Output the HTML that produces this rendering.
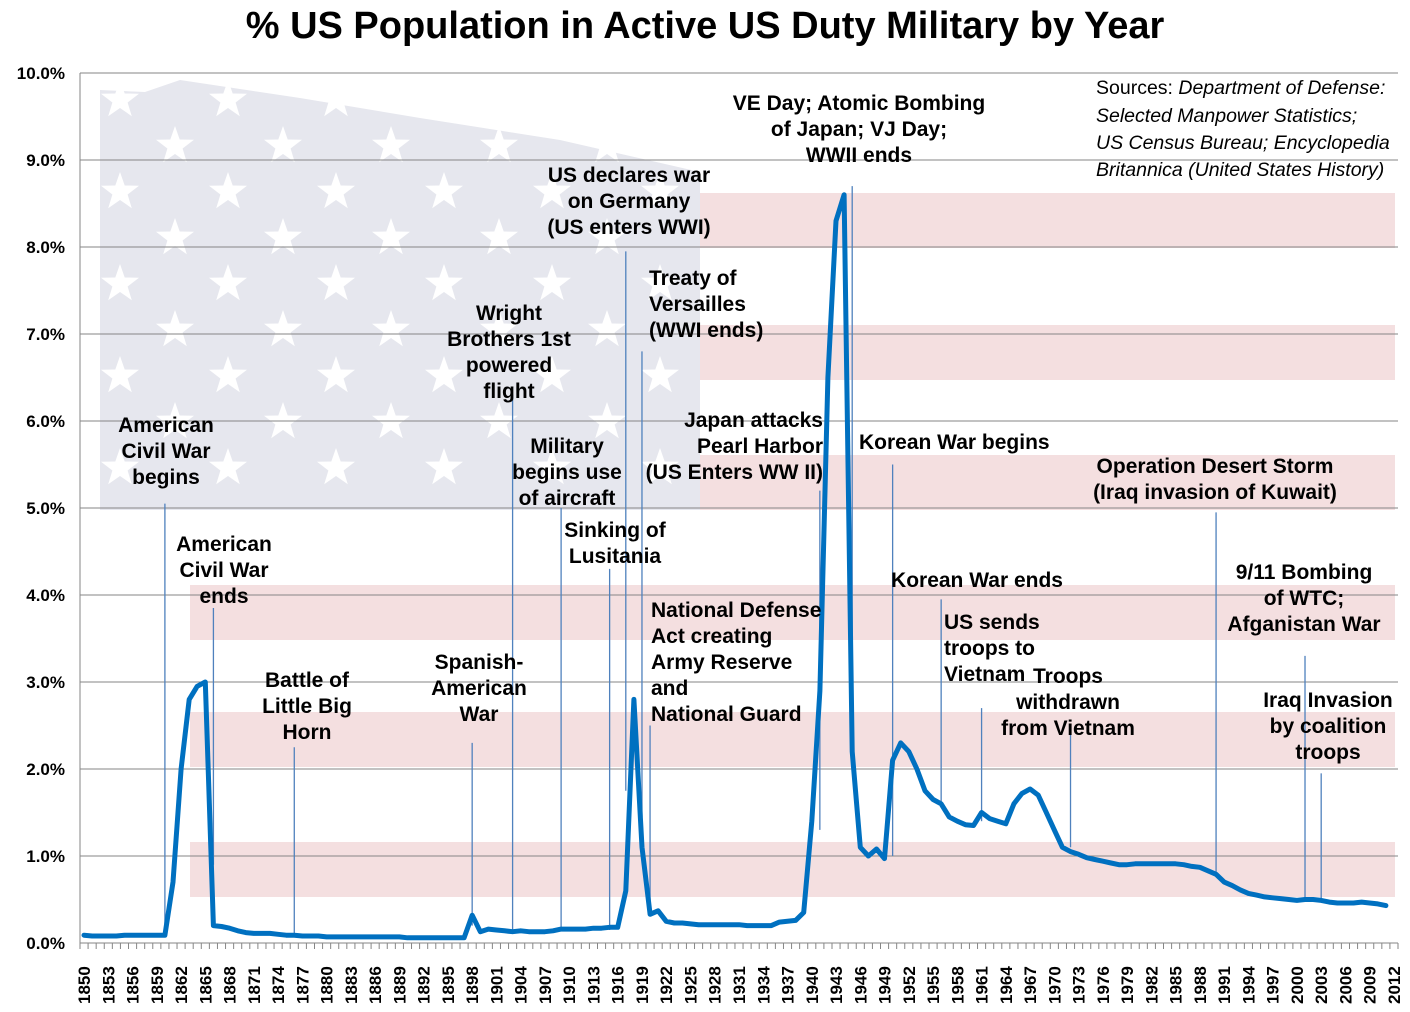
<!DOCTYPE html>
<html><head><meta charset="utf-8"><style>
body{margin:0;background:#fff;}
svg text{font-family:"Liberation Sans Narrow","Liberation Sans",sans-serif;}
</style></head><body>
<svg id="chart" width="1410" height="1007" xmlns="http://www.w3.org/2000/svg">
<g id="bg"></g>
<g id="grid"></g>
<g id="leaders"></g>
<g id="series"></g>
<g id="axes"></g>
<g id="notes"></g>
<text x="705" y="38" text-anchor="middle" font-size="38" font-weight="bold" fill="#000" style="font-family:'Liberation Sans Narrow','Liberation Sans',sans-serif">% US Population in Active US Duty Military by Year</text>
<g fill="#000">
<text x="1096" y="94" style="font-family:'Liberation Sans',sans-serif;font-size:19.5px">Sources: <tspan font-style="italic">Department of Defense:</tspan></text>
<text x="1096" y="122" font-style="italic" style="font-family:'Liberation Sans',sans-serif;font-size:19.5px">Selected Manpower Statistics;</text>
<text x="1096" y="149" font-style="italic" style="font-family:'Liberation Sans',sans-serif;font-size:19.5px">US Census Bureau; Encyclopedia</text>
<text x="1096" y="176" font-style="italic" style="font-family:'Liberation Sans',sans-serif;font-size:19.5px">Britannica (United States History)</text>
</g>
</svg>
<script>
const years = [];
for (let y = 1850; y <= 2012; y++) years.push(y);
const values = [
0.09,0.08,0.08,0.08,0.08,0.09,0.09,0.09,0.09,0.09,0.09,
0.70,2.00,2.80,2.95,3.00,0.20,0.19,0.17,0.14,0.12,0.11,0.11,0.11,0.10,0.09,0.09,0.08,0.08,0.08,0.07,0.07,0.07,0.07,0.07,0.07,0.07,0.07,0.07,0.07,0.06,0.06,0.06,0.06,0.06,0.06,0.06,0.06,
0.32,0.13,0.16,0.15,0.14,0.13,0.14,0.13,0.13,0.13,0.14,0.16,0.16,0.16,0.16,0.17,0.17,0.18,0.18,
0.60,2.80,1.10,0.33,0.37,0.25,0.23,0.23,0.22,0.21,0.21,0.21,0.21,0.21,0.21,0.20,0.20,0.20,0.20,0.24,0.25,0.26,
0.35,1.40,2.90,6.50,8.30,8.60,2.20,1.10,1.00,1.08,0.97,
2.10,2.30,2.20,2.00,1.75,1.65,1.60,1.45,1.40,1.36,1.35,1.50,1.43,1.40,1.37,1.60,1.72,1.77,1.70,1.50,1.30,1.10,1.05,1.02,0.98,0.96,0.94,0.92,0.90,0.90,0.91,0.91,0.91,0.91,0.91,0.91,0.90,0.88,0.87,0.83,0.79,
0.70,0.66,0.61,0.57,0.55,0.53,0.52,0.51,0.50,0.49,0.50,0.50,0.49,0.47,0.46,0.46,0.46,0.47,0.46,0.45,0.43
];
const yTicks = [0,1,2,3,4,5,6,7,8,9,10];
const yTickLabels = ["0.0%","1.0%","2.0%","3.0%","4.0%","5.0%","6.0%","7.0%","8.0%","9.0%","10.0%"];
const eventYears = [1860,1866,1876,1898,1903,1909,1915,1917,1919,1920,1941,1945,1950,1956,1961,1972,1990,2001,2003];
const eventTops = [5.05,3.85,2.25,2.3,6.3,5.0,4.3,7.95,6.8,2.5,5.2,8.7,5.5,3.95,2.7,2.4,4.95,3.3,1.95];
const eventBottoms = [0.1,0.9,0.09,0.2,0.15,0.15,0.15,1.75,1.45,0.35,1.3,2.0,1.0,1.6,1.4,1.1,0.8,0.5,0.5];
const NS="http://www.w3.org/2000/svg";
const L=80,R=1398,T=73,B=943;
const bw=(R-L)/years.length;
function xs(yr){return L+(yr-years[0]+0.5)*bw;}
function ys(v){return B-(v/10)*(B-T);}
function mk(tag,attrs,parent){const e=document.createElementNS(NS,tag);for(const k in attrs)e.setAttribute(k,attrs[k]);parent.appendChild(e);return e;}
const bg=document.getElementById('bg');
let e;
const stripeTops=[193,325,455,585,712,842];
stripeTops.forEach((t,i)=>{
 const x0 = t<510?700:190;
 e=mk('rect',{x:x0,y:t,width:1395-x0,height:55,fill:'#f4dfe0'},bg);
 
 
});
e=mk('path',{d:'M100,90 L145,92 L180,80 L300,98 L420,118 L560,140 L700,172 L700,510 L100,510 Z',fill:'#e6e7ee'},bg);


function star(cx,cy,r){let p=[];for(let i=0;i<10;i++){const a=-Math.PI/2+i*Math.PI/5;const rr=i%2?r*0.4:r;p.push((cx+rr*Math.cos(a)).toFixed(1)+','+(cy+rr*Math.sin(a)).toFixed(1));}return p.join(' ');}
for(let row=0;row<9;row++){for(let col=0;col<6;col++){
 const cx=(row%2?175:120)+col*108, cy=100+row*46;
 if(cx>690)continue;
 e=mk('polygon',{points:star(cx,cy,20),fill:'#fff'},bg);
 
 
}}
const grid=document.getElementById('grid');
yTicks.forEach(t=>{
 e=mk('line',{x1:L,x2:R,y1:ys(t),y2:ys(t),stroke:'#868686','stroke-width':1},grid);
 
 
});
const ax=document.getElementById('axes');
e=mk('line',{x1:L,x2:L,y1:T,y2:B,stroke:'#868686'},ax);


e=mk('line',{x1:L,x2:R,y1:B,y2:B,stroke:'#868686'},ax);


yTicks.forEach((t,i)=>{
 e=mk('text',{x:65,y:ys(t)+6,'text-anchor':'end','font-size':17,'font-weight':'bold',fill:'#000'},ax);
 e.textContent=yTickLabels[i];
 
 
});
for(let i=0;i<=years.length;i++){
 const x=L+i*bw;
 e=mk('line',{x1:x,x2:x,y1:B,y2:B+6,stroke:'#868686'},ax);
 
 
}
years.forEach(y=>{
 if((y-1850)%3!==0)return;
 const x=xs(y);
 e=mk('text',{x:0,y:0,transform:`translate(${x+6},1004) rotate(-90)`,'font-size':17,'font-weight':'bold',fill:'#000'},ax);
 e.textContent=String(y);
 
 
});
const ld=document.getElementById('leaders');
eventYears.forEach((y,i)=>{
 e=mk('line',{x1:xs(y),x2:xs(y),y1:ys(eventTops[i]),y2:ys(eventBottoms[i]),stroke:'#4f81bd','stroke-width':1.3},ld);
 
 
});
const s=document.getElementById('series');
const pts=years.map((y,i)=>xs(y).toFixed(1)+','+ys(values[i]).toFixed(1)).join(' ');
e=mk('polyline',{points:pts,fill:'none',stroke:'#0070c0','stroke-width':5,'stroke-linejoin':'round','stroke-linecap':'round'},s);


const notes=[
 [166,432,'middle',['American','Civil War','begins']],
 [224,551,'middle',['American','Civil War','ends']],
 [307,687,'middle',['Battle of','Little Big','Horn']],
 [479,669,'middle',['Spanish-','American','War']],
 [509,320,'middle',['Wright','Brothers 1st','powered','flight']],
 [567,453,'middle',['Military','begins use','of aircraft']],
 [615,537,'middle',['Sinking of','Lusitania']],
 [629,182,'middle',['US declares war','on Germany','(US enters WWI)']],
 [649,285,'start',['Treaty of','Versailles','(WWI ends)']],
 [651,617,'start',['National Defense','Act creating','Army Reserve','and','National Guard']],
 [823,427,'end',['Japan attacks','Pearl Harbor','(US Enters WW II)']],
 [859,110,'middle',['VE Day; Atomic Bombing','of Japan; VJ Day;','WWII ends']],
 [859,449,'start',['Korean War begins']],
 [977,587,'middle',['Korean War ends']],
 [944,629,'start',['US sends','troops to','Vietnam']],
 [1068,683,'middle',['Troops','withdrawn','from Vietnam']],
 [1215,473,'middle',['Operation Desert Storm','(Iraq invasion of Kuwait)']],
 [1304,579,'middle',['9/11 Bombing','of WTC;','Afganistan War']],
 [1328,707,'middle',['Iraq Invasion','by coalition','troops']]
];
const ng=document.getElementById('notes');
notes.forEach(n=>{
 const t=mk('text',{x:n[0],y:n[1],'text-anchor':n[2],'font-size':21,'font-weight':'bold',fill:'#000'},ng);
 
 
 n[3].forEach((line,j)=>{const ts=mk('tspan',{x:n[0],dy:j?26:0},t);ts.textContent=line;});
});
</script>
</body></html>
